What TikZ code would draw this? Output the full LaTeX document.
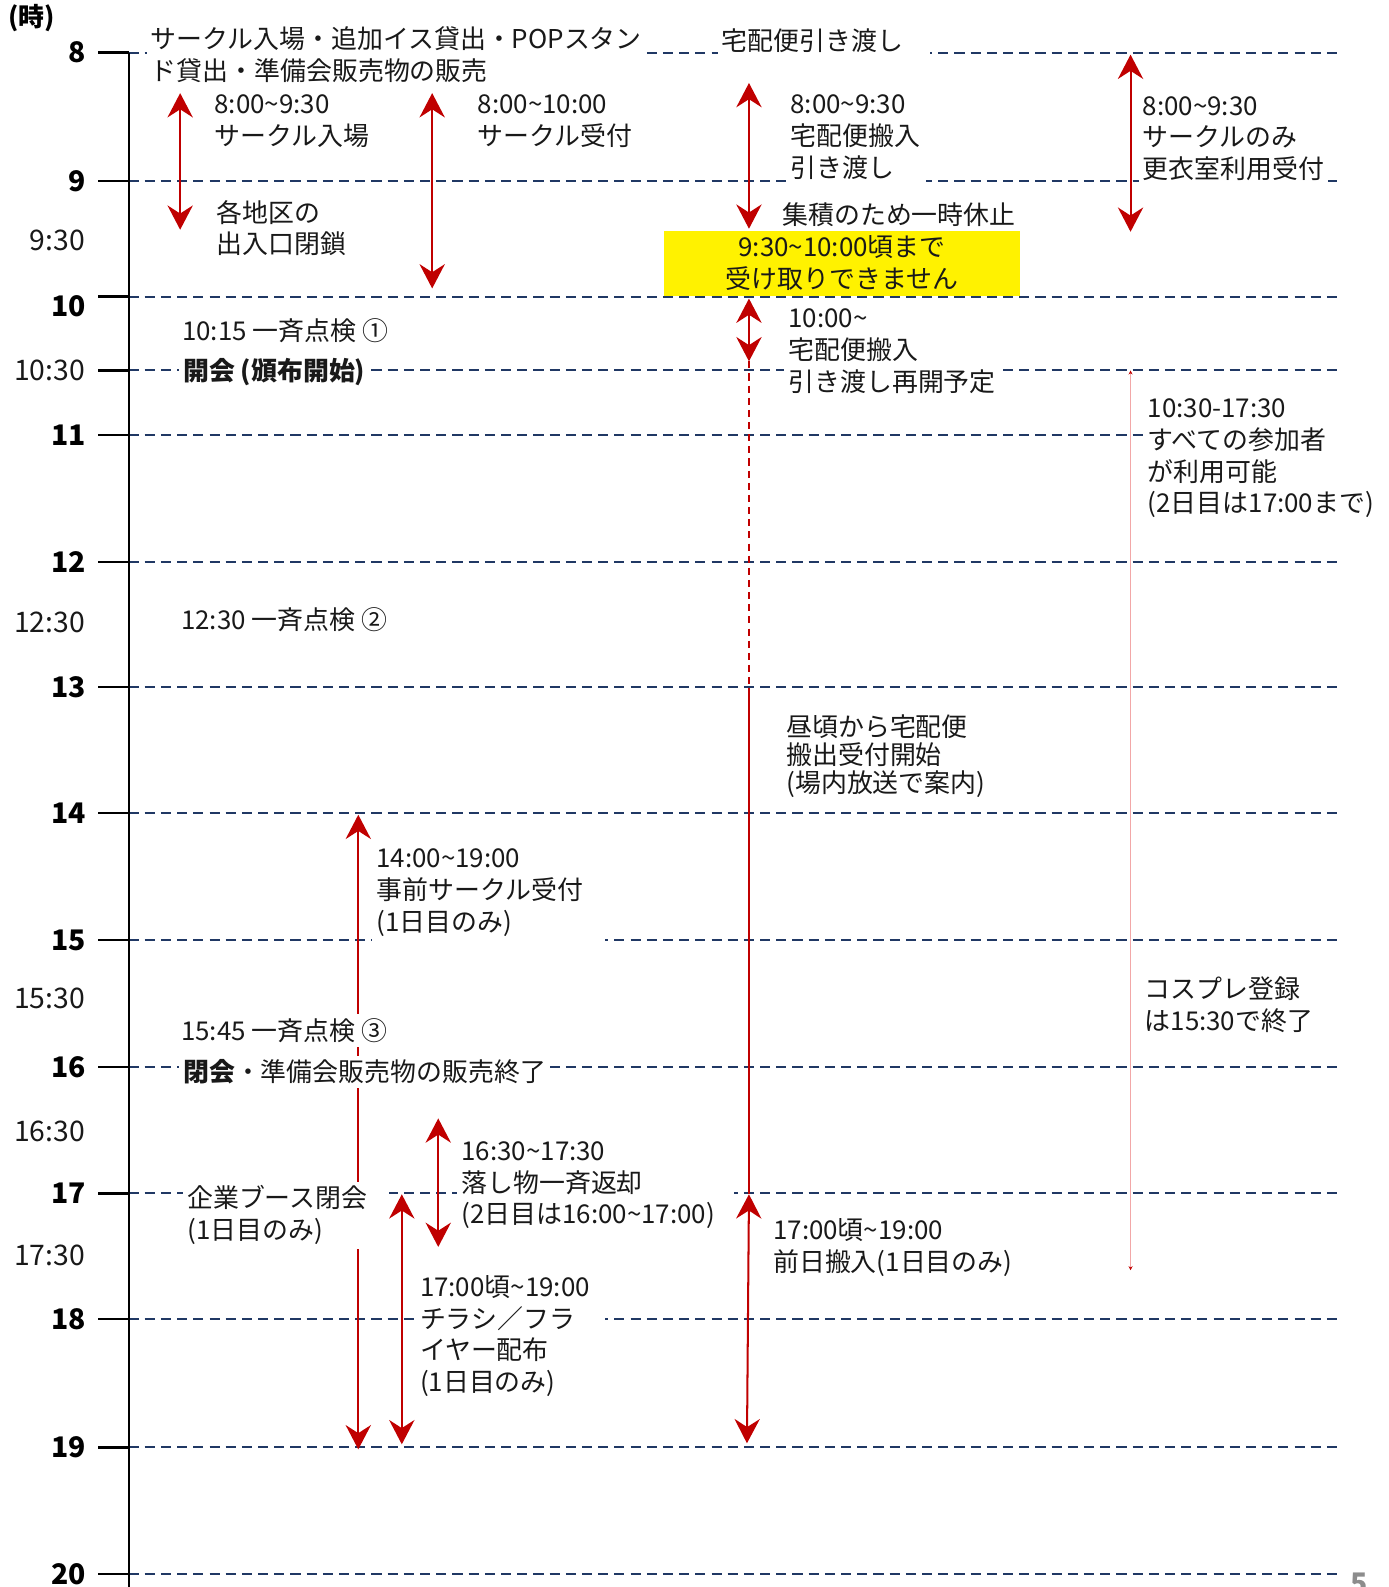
\documentclass[tikz,border=0pt]{standalone}
\usepackage{fontspec}
\setmainfont{Noto Sans CJK JP}
\usetikzlibrary{arrows.meta}
\definecolor{navy}{HTML}{203864}
\definecolor{darkred}{HTML}{C00000}
\definecolor{pinkline}{HTML}{F2A7A7}
\newcommand{\wv}{\textasciitilde}
\newcommand{\txt}{\fontsize{12.8}{15.6}\selectfont}
\begin{document}
\begin{tikzpicture}
[x=0.5pt, y=-0.5pt, line width=1pt,
 hline/.style={navy, dash pattern=on 5pt off 3pt},
 spanarr/.style={darkred, {Stealth[length=12pt,width=12.5pt,inset=4pt]}-{Stealth[length=12pt,width=12.5pt,inset=4pt]}},
 note/.style={anchor=west, align=left, fill=white, inner sep=2pt, font=\txt, text=black!90},
 hour/.style={anchor=east, inner sep=0pt, font=\fontsize{14}{16}\selectfont\bfseries},
 half/.style={anchor=east, inner sep=0pt, font=\fontsize{14}{16}\selectfont, text=black!90}]
\useasboundingbox (0,0) rectangle (1372,1568);
%% hour lines, ticks, axis
\foreach \y in {52,179,293,366,430,555,679,803,929,1054,1179,1303,1430,1555}
  \draw[hline] (127,\y) -- (1322,\y);
\foreach \y in {52,179,293,366,430,555,679,803,929,1054,1179,1303,1430,1555}
  \draw[line width=1.2pt] (97,\y) -- (127,\y);
\draw (127,52) -- (127,1568); %% axis
\node (unit) at (7,18) [anchor=west, inner sep=0pt, font=\txt\bfseries] {(時)};
\foreach \h/\y in {8/52, 9/179, 10/303, 11/430, 12/555, 13/679, 14/803, 15/929, 16/1054, 17/1179, 18/1303, 19/1430, 20/1555}
  \node (h\h) at (86,\y) [hour] {\h};
\node (h930)  at (85,238)  [half] {9:30};
\node (h1030) at (85,366)  [half] {10:30};
\node (h1230) at (85,615)  [half] {12:30};
\node (h1530) at (85,986)  [half] {15:30};
\node (h1630) at (85,1118) [half] {16:30};
\node (h1730) at (85,1240) [half] {17:30};
%% morning spans
\draw[spanarr] (178,92) -- (178,227);   %% circle entry
\draw[spanarr] (427,92) -- (427,285);   %% circle desk
\draw[spanarr] (740,82) -- (740,226);   %% parcels in
\draw[spanarr] (1117,54) -- (1117,229); %% dressing room
\draw[spanarr] (740,295) -- (740,357);  %% parcels again
\draw[darkred, line width=0.8pt, dash pattern=on 3.5pt off 2.5pt] (740,357) -- (740,680);
\draw[darkred, line width=0.8pt] (740,680) -- (740,1180);
\draw[pinkline, line width=0.6pt, {Stealth[length=2pt,width=2pt,darkred]}-{Stealth[length=2pt,width=2pt,darkred]}] (1117,366) -- (1117,1255);
%% afternoon spans
\draw[spanarr] (354,805) -- (354,1432);   %% pre-registration
\draw[spanarr] (433,1105) -- (433,1232);  %% lost and found
\draw[spanarr] (397,1180) -- (397,1427);  %% flyers
\draw[spanarr] (740,1180) -- (738,1426);  %% day-before delivery
%% labels
\node (entry) at (144,54) [note] {サークル入場・追加イス貸出・POPスタン\\ド貸出・準備会販売物の販売};
\node (handover) at (708,40) [note, text width=101pt] {宅配便引き渡し};
\node (enter) at (207,119.5) [note] {8:00\wv 9:30\\サークル入場};
\node (gates) at (209,225.5) [note] {各地区の\\出入口閉鎖};
\node (desk) at (467,119.5) [note] {8:00\wv 10:00\\サークル受付};
\node (parcel) at (776,135.5) [note, text width=65pt] {8:00\wv 9:30\\宅配便搬入\\引き渡し};
\node (dress) at (1124,137) [note] {8:00\wv 9:30\\サークルのみ\\更衣室利用受付};
\node (pause) at (768,212) [note] {集積のため一時休止};
\node (stop) at (832,260) [fill=yellow, minimum width=176pt, minimum height=32pt, inner sep=0pt, align=center, font=\txt, text=black!90] {9:30\wv 10:00頃まで\\受け取りできません};
\node (resume) at (774,347) [note] {10:00\wv\\宅配便搬入\\引き渡し再開予定};
\node (check1) at (175,327) [note] {10:15 一斉点検 ①};
\node (open) at (176,368) [note, font=\txt\bfseries] {開会 (頒布開始)};
\node (dressall) at (1129,453) [note] {10:30-17:30\\すべての参加者\\が利用可能\\(2日目は17:00まで)};
\node (check2) at (174,612) [note] {12:30 一斉点検 ②};
\node (pickup) at (772,747) [note, font=\fontsize{12.8}{14}\selectfont] {昼頃から宅配便\\搬出受付開始\\(場内放送で案内)};
\node (prereg) at (367,882) [note, text width=111pt, inner ysep=3pt] {14:00\wv 19:00\\事前サークル受付\\(1日目のみ)};
\node (cosplay) at (1126,992.5) [note] {コスプレ登録\\は15:30で終了};
\node (check3) at (174,1018) [note] {15:45 一斉点検 ③};
\node (close) at (176,1059) [note] {\textbf{閉会}・準備会販売物の販売終了};
\node (booth) at (180,1200.5) [note, text width=97.5pt] {企業ブース閉会\\(1日目のみ)};
\node (lost) at (451,1171) [note, text width=132.5pt] {16:30\wv 17:30\\落し物一斉返却\\(2日目は16:00\wv 17:00)};
\node (flyer) at (410,1320) [note, text width=89.5pt] {17:00頃\wv 19:00\\チラシ／フラ\\イヤー配布\\(1日目のみ)};
\node (eve) at (759,1232.5) [note] {17:00頃\wv 19:00\\前日搬入(1日目のみ)};
\node (page) at (1343,1553) [anchor=north, inner sep=0pt, font=\fontsize{14}{16}\selectfont\bfseries, text=black!45] {5};
\end{tikzpicture}
\end{document}
